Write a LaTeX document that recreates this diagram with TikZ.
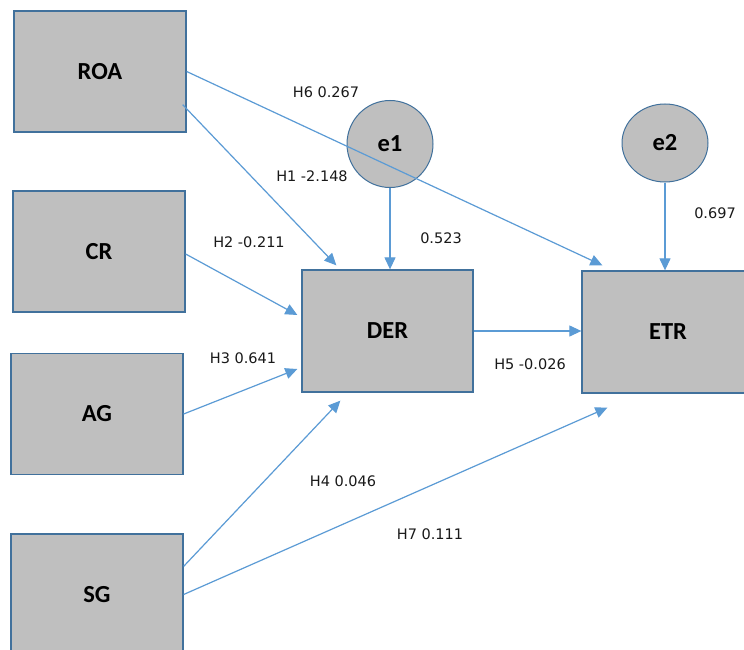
\documentclass[tikz,border=0pt]{standalone}
\usepackage{fontspec}
\setmainfont{DejaVu Sans}
\newfontfamily\boxfont{Carlito}
\usetikzlibrary{arrows.meta,calc,shapes.geometric}
\definecolor{boxfill}{HTML}{BFBFBF}
\definecolor{boxline}{HTML}{41719C}
\definecolor{arr}{HTML}{5B9BD5}
\begin{document}
\begin{tikzpicture}[x=1pt,y=-1pt,
  var/.style={draw=boxline, line width=1.3pt, fill=boxfill, minimum width=172pt, minimum height=121pt, inner sep=0pt, font=\boxfont\bfseries\fontsize{24.5}{25}\selectfont},
  err/.style={ellipse, draw=boxline, line width=1pt, fill=boxfill, inner sep=0pt, font=\boxfont\bfseries\fontsize{24.5}{25}\selectfont},
  conn/.style={draw=arr, line width=1.2pt, -{Triangle[length=12pt,width=11pt]}},
  lab/.style={font=\fontsize{14.5}{15}\selectfont, text=black!90, inner sep=0pt}]
\clip (0,0) rectangle (744,650);
\fill[white] (0,0) rectangle (744,650);

\node[var] (ROA) at (100,71.5) {ROA};
\node[var] (CR) at (99,251.5) {CR};
\node[var] (AG) at (97,414) {AG};
\node[var] (SG) at (97,594.5) {SG};
\node[var, minimum width=171pt, minimum height=122pt] (DER) at (387.5,331) {DER};
\node[var, minimum height=122pt] (ETR) at (668,332) {ETR};
\node[err, minimum width=86pt, minimum height=87pt] (e1) at (390,144) {e1};
\node[err, minimum width=86pt, minimum height=78pt] (e2) at (665,143) {e2};

\draw[conn] (ROA.east) -- ($(ETR.north west)+(21,-5)$);
\draw[conn] ($(ROA.south east)+(-4,-28)$) -- ($(DER.north west)+(35,-4)$);
\draw[conn] (e1.south) -- (e1.south |- DER.north);
\draw[conn] ($(CR.east)+(0,2.5)$) -- ($(DER.west)+(-4,-16)$);
\draw[conn] (AG.east) -- ($(DER.west)+(-4,38)$);
\draw[conn] ($(SG.north east)+(0,33)$) -- ($(DER.south west)+(39,8)$);
\draw[conn] (SG.east) -- ($(ETR.south west)+(26,14)$);
\draw[conn] (DER.east) -- (DER.east -| ETR.west);
\draw[conn] (e2.south) -- (e2.south |- ETR.north);

\node[lab] (l6) at (326,92) {H6 0.267};
\node[lab] (l1) at (312,176) {H1 -2.148};
\node[lab] (l2) at (249,242) {H2 -0.211};
\node[lab] (le1) at (441,238) {0.523};
\node[lab] (l3) at (243,358) {H3 0.641};
\node[lab] (l5) at (530,364) {H5 -0.026};
\node[lab] (le2) at (715,213) {0.697};
\node[lab] (l4) at (343,481) {H4 0.046};
\node[lab] (l7) at (430,534) {H7 0.111};
\end{tikzpicture}
\end{document}
